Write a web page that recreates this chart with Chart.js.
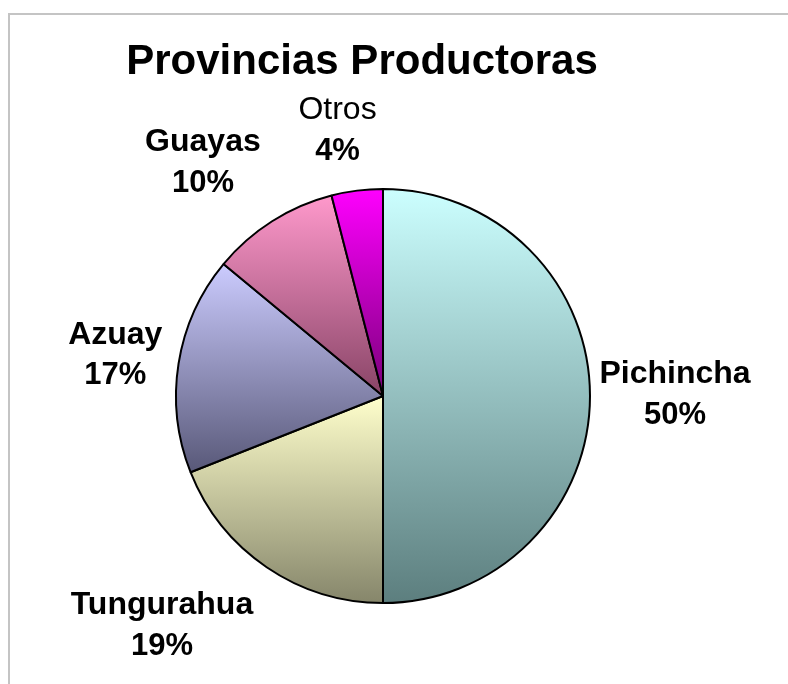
<!DOCTYPE html>
<html>
<head>
<meta charset="utf-8">
<title>Provincias Productoras</title>
<script src="https://cdn.jsdelivr.net/npm/chart.js@4/dist/chart.umd.min.js"></script>
<style>
  html, body { margin: 0; padding: 0; background: #fff; }
  #wrap { position: relative; width: 788px; height: 684px; }
</style>
</head>
<body>
<div id="wrap"><canvas id="chart" width="788" height="684"></canvas></div>
<script>
// Data
const provinces = ['Pichincha', 'Tungurahua', 'Azuay', 'Guayas', 'Otros'];
const shares = [50, 19, 17, 10, 4];
const titleText = 'Provincias Productoras';

// Gradient colours per slice (light at top, dark at bottom of each slice)
const topColors = ['#ccffff', '#ffffcc', '#ccccff', '#ff99cc', '#ff00ff'];
const bottomColors = ['#5c7e7e', '#85856a', '#585878', '#884466', '#7a007a'];

/**
 * Vertical extent of slice i, from the pie geometry in the chart area
 */
function sliceExtent(area, i) {
    const total = shares.reduce((a, b) => a + b, 0);
    const before = shares.slice(0, i).reduce((a, b) => a + b, 0);
    const cx = (area.left + area.right) / 2;
    const cy = (area.top + area.bottom) / 2;
    const r = Math.min(area.right - area.left, area.bottom - area.top) / 2;
    const a0 = -Math.PI / 2 + before / total * Math.PI * 2;
    const a1 = a0 + shares[i] / total * Math.PI * 2;
    const ys = [cy, cy + r * Math.sin(a0), cy + r * Math.sin(a1)];
    // check top (-PI/2 or 3PI/2) and bottom (PI/2) inside the sweep
    [-Math.PI / 2, Math.PI / 2, Math.PI * 1.5].forEach(a => {
        if (a > a0 + 1e-6 && a < a1 - 1e-6) ys.push(cy + r * Math.sin(a));
    });
    if (a0 <= -Math.PI / 2 + 1e-6) ys.push(cy - r);
    return [Math.min(...ys), Math.max(...ys)];
}

function sliceFill(context) {
    const chart = context.chart;
    const area = chart.chartArea;
    const i = context.dataIndex;
    if (!area) return topColors[i];
    const [y0, y1] = sliceExtent(area, i);
    const g = chart.ctx.createLinearGradient(0, y0, 0, y1);
    g.addColorStop(0, topColors[i]);
    g.addColorStop(1, bottomColors[i]);
    return g;
}

// Frame, title and outside labels
const decorations = {
    id: 'decorations',
    beforeDraw(chart) {
        const ctx = chart.ctx;
        ctx.save();
        ctx.strokeStyle = '#c4c4c4';
        ctx.lineWidth = 2;
        ctx.beginPath();
        ctx.moveTo(9, 684);
        ctx.lineTo(9, 14);
        ctx.lineTo(788, 14);
        ctx.stroke();
        ctx.restore();
    },
    afterDatasetsDraw(chart, args, opts) {
        const ctx = chart.ctx;
        const meta = chart.getDatasetMeta(0);
        const total = shares.reduce((a, b) => a + b, 0);

        ctx.save();
        ctx.fillStyle = '#000';
        ctx.textAlign = 'center';
        ctx.textBaseline = 'middle';

        meta.data.forEach((arc, i) => {
            const p = arc.getProps(['x', 'y', 'startAngle', 'endAngle', 'outerRadius'], true);
            const mid = (p.startAngle + p.endAngle) / 2;
            const r = p.outerRadius + opts.gap;
            const cx = p.x + Math.cos(mid) * r + opts.nudge[i][0];
            const cy = p.y + Math.sin(mid) * r + opts.nudge[i][1];
            const pct = Math.round(shares[i] / total * 100) + '%';

            ctx.font = (opts.light.includes(provinces[i]) ? 'normal ' : 'bold ') + '32px "Liberation Sans", Arial, sans-serif';
            ctx.fillText(provinces[i], cx, cy - opts.lineGap / 2);
            ctx.font = 'bold 31px "Liberation Sans", Arial, sans-serif';
            ctx.fillText(pct, cx, cy + opts.lineGap / 2);
        });

        // Title
        ctx.font = 'bold 42px "Liberation Sans", Arial, sans-serif';
        ctx.textBaseline = 'alphabetic';
        ctx.fillText(titleText, 362, 74);
        ctx.restore();
    }
};

new Chart(document.getElementById('chart').getContext('2d'), {
    type: 'pie',
    data: {
        labels: provinces,
        datasets: [{
            data: shares,
            backgroundColor: sliceFill,
            borderColor: '#000',
            borderWidth: 2
        }]
    },
    options: {
        responsive: false,
        animation: false,
        layout: { padding: { left: 175, right: 197, top: 187, bottom: 79 } },
        plugins: {
            legend: { display: false },
            tooltip: { enabled: false },
            title: { display: false },
            decorations: {
                gap: 60,
                lineGap: 41,
                light: ['Otros'],
                nudge: [[25, -1], [-71, 9], [-4, 1], [-37, -8], [-12, 0]]
            }
        }
    },
    plugins: [decorations]
});
</script>
</body>
</html>
